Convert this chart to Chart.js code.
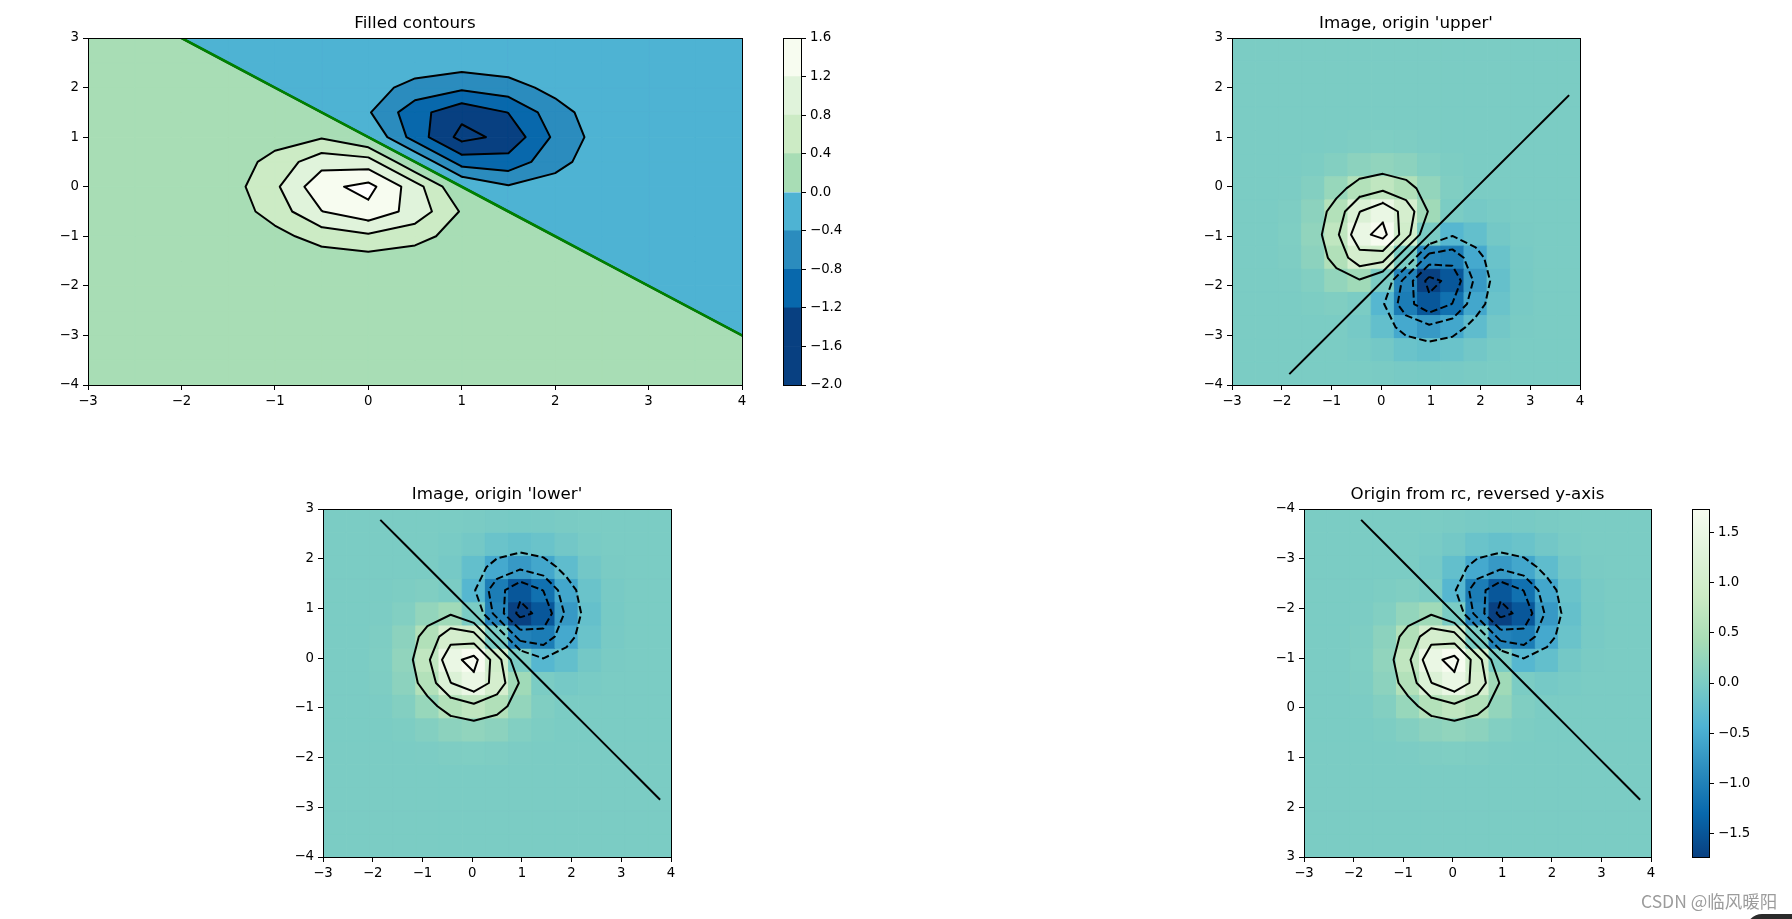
<!DOCTYPE html>
<html><head><meta charset="utf-8">
<script src="https://cdn.jsdelivr.net/npm/chart.js@4.4.1/dist/chart.umd.min.js"></script>
<style>
html,body{margin:0;padding:0;background:#fff;width:1792px;height:919px;overflow:hidden;position:relative;}
canvas{position:absolute;}
#wm{position:absolute;left:1641px;top:888px;font-family:"Noto Sans CJK SC";font-size:17.5px;color:#9c9c9c;white-space:nowrap;z-index:5;}
#corner{position:absolute;left:1746px;top:914px;width:80px;height:30px;border-radius:16px 0 0 0;background:#2b2b2b;z-index:5;}
</style></head><body>
<canvas id="p1"></canvas><canvas id="cb1"></canvas>
<canvas id="p2"></canvas><canvas id="p3"></canvas>
<canvas id="p4"></canvas><canvas id="cb4"></canvas>
<div id="wm">CSDN @临风暖阳</div><div id="corner"></div>
<script>
// ---------------- data ----------------
const X_GRID = [-3,-2.5,-2,-1.5,-1,-0.5,0,0.5,1,1.5,2,2.5,3,3.5,4];
const Y_GRID = [-4,-3.5,-3,-2.5,-2,-1.5,-1,-0.5,0,0.5,1,1.5,2,2.5,3];
const P = 0.001, N = -0.001; // tiny positive / negative values (far field)
const Z = [
 [P,P,P,P,P,P,P,P,P,P,P,P,P,P,P],                                  // y=-4
 [P,P,P,P,P,P,P,P,P,P,P,P,P,P,P],                                  // y=-3.5
 [P,P,P,P,P,P,P,P,P,P,P,P,P,P,0],                                  // y=-3
 [P,P,P,P,P,P,P,P,P,P,P,P,P,0,N],                                  // y=-2.5
 [P,P,P,P,0.01,0.03,0.04,0.03,0.01,P,P,P,0,N,N],                   // y=-2
 [P,P,P,0.02,0.08,0.16,0.21,0.16,0.07,0.02,P,0,N,N,N],             // y=-1.5
 [P,P,0.01,0.08,0.27,0.57,0.72,0.54,0.23,0.05,0,N,N,N,N],          // y=-1
 [P,P,0.03,0.16,0.57,1.19,1.48,1.05,0.36,0,-0.05,-0.02,N,N,N],     // y=-0.5
 [P,P,0.04,0.21,0.72,1.48,1.73,0.98,0,-0.36,-0.23,-0.07,-0.01,N,N],// y=0
 [P,P,0.03,0.16,0.54,1.05,0.98,0,-0.98,-1.05,-0.54,-0.16,-0.03,N,N],// y=0.5
 [P,P,0.01,0.07,0.23,0.36,0,-0.98,-1.73,-1.48,-0.72,-0.21,-0.04,N,N],// y=1
 [P,P,P,0.02,0.05,0,-0.36,-1.05,-1.48,-1.19,-0.57,-0.16,-0.03,N,N],// y=1.5
 [P,P,P,P,0,-0.05,-0.23,-0.54,-0.72,-0.57,-0.27,-0.08,-0.01,N,N],  // y=2
 [P,P,P,0,N,-0.02,-0.07,-0.16,-0.21,-0.16,-0.08,-0.02,N,N,N],      // y=2.5
 [P,P,0,N,N,N,-0.01,-0.03,-0.04,-0.03,-0.01,N,N,N,N]               // y=3
];
const EXTENT = [-3, 4, -4, 3];
const LEVELS = [-2,-1.6,-1.2,-0.8,-0.4,0,0.4,0.8,1.2,1.6];
const BAND_COLORS = ['#084081','#084081','#0868ac','#2b8cbe','#4eb3d3','#a8ddb5','#ccebc5','#e0f3db','#f7fcf0'];
const GNBU_R = ['#084081','#0868ac','#2b8cbe','#4eb3d3','#7bccc4','#a8ddb5','#ccebc5','#e0f3db','#f7fcf0'];
const VMAX = 1.73;
const X_TICKS = [-3,-2,-1,0,1,2,3,4];
const Y_TICKS = [-4,-3,-2,-1,0,1,2,3];
const CB1_TICKS = [-2,-1.6,-1.2,-0.8,-0.4,0,0.4,0.8,1.2,1.6];
const CB4_TICKS = [-1.5,-1,-0.5,0,0.5,1,1.5];
const TITLES = ['Filled contours',"Image, origin 'upper'","Image, origin 'lower'",'Origin from rc, reversed y-axis'];

// ---------------- helpers ----------------
const FONT = 'DejaVu Sans';
Chart.defaults.font.family = FONT;
Chart.defaults.color = '#000';
const DASH = [7.5, 3.3];
const TITLE_SIZE = 16.7;
const NX = X_GRID.length, NY = Y_GRID.length;
const DX = (EXTENT[1]-EXTENT[0])/NX, DY = (EXTENT[3]-EXTENT[2])/NY;

function hex(c){return [1,3,5].map(k=>parseInt(c.substr(k,2),16));}
function cmap(v){
  let t = (v + VMAX)/(2*VMAX); t = Math.max(0, Math.min(1, t));
  const f = t*(GNBU_R.length-1); const i = Math.min(Math.floor(f), GNBU_R.length-2); const u = f-i;
  const a = hex(GNBU_R[i]), b = hex(GNBU_R[i+1]);
  return 'rgb('+[0,1,2].map(k=>Math.round(a[k]+(b[k]-a[k])*u)).join(',')+')';
}
const minus = s => String(s).replace('-', '\u2212');
const fmtInt = v => minus(v);
const fmt1 = v => minus(Number(v).toFixed(1));

function isoSegments(xs, ys, level){
  const segs = [];
  const ip = (a,b) => { const t=(level-a[2])/(b[2]-a[2]); return [a[0]+t*(b[0]-a[0]), a[1]+t*(b[1]-a[1])]; };
  for (let j=0;j<NY-1;j++) for (let i=0;i<NX-1;i++){
    const c = [[xs[i],ys[j],Z[j][i]],[xs[i+1],ys[j],Z[j][i+1]],[xs[i+1],ys[j+1],Z[j+1][i+1]],[xs[i],ys[j+1],Z[j+1][i]]];
    const pts = [];
    for (let k=0;k<4;k++){ const a=c[k], b=c[(k+1)%4]; if ((a[2]>level)!==(b[2]>level)) pts.push(ip(a,b)); }
    if (pts.length===2) segs.push(pts);
    else if (pts.length===4){
      const ctr=(c[0][2]+c[1][2]+c[2][2]+c[3][2])/4;
      if ((ctr>level)===(c[0][2]>level)) { segs.push([pts[0],pts[1]]); segs.push([pts[2],pts[3]]); }
      else { segs.push([pts[3],pts[0]]); segs.push([pts[1],pts[2]]); }
    }
  }
  return segs.filter(s => Math.hypot(s[0][0]-s[1][0], s[0][1]-s[1][1]) > 1e-9);
}
function chain(segs){
  const key = p => Math.round(p[0]*1e6)+','+Math.round(p[1]*1e6);
  const adj = new Map();
  segs.forEach((s,i)=>{ for (const e of [0,1]) { const k=key(s[e]); if(!adj.has(k)) adj.set(k,[]); adj.get(k).push([i,e]); } });
  const used = new Array(segs.length).fill(false);
  const lines = [];
  const walk = (si, e) => {
    const pts = [segs[si][e]];
    while (true){
      used[si] = true;
      const other = segs[si][1-e]; pts.push(other);
      const cand = (adj.get(key(other))||[]).find(([j])=>!used[j]);
      if (!cand) break; si = cand[0]; e = cand[1];
    }
    return pts;
  };
  for (const [k,list] of adj) if (list.length===1 && !used[list[0][0]]) lines.push(walk(list[0][0], list[0][1]));
  for (let i=0;i<segs.length;i++) if (!used[i]) lines.push(walk(i,0));
  return lines;
}
function contourDatasets(xs, ys, levels, dashedNeg, color, width, order){
  const out = [];
  for (const L of levels){
    for (const pl of chain(isoSegments(xs, ys, L))){
      const dashed = dashedNeg && L < 0;
      out.push({data: pl.map(p=>({x:p[0], y:p[1]})), showLine:true, pointRadius:0, borderColor:color, borderWidth:width,
        borderDash: dashed ? DASH : [], borderJoinStyle:'round', borderCapStyle: dashed ? 'butt' : 'square', fill:false, order});
    }
  }
  return out;
}
function clipPoly(poly, level, keepAbove){
  const out=[];
  for (let k=0;k<poly.length;k++){
    const a=poly[k], b=poly[(k+1)%poly.length];
    const ina = keepAbove ? a[2]>=level : a[2]<=level;
    const inb = keepAbove ? b[2]>=level : b[2]<=level;
    if (ina) out.push(a);
    if (ina!==inb){ const t=(level-a[2])/(b[2]-a[2]); out.push([a[0]+t*(b[0]-a[0]), a[1]+t*(b[1]-a[1]), level]); }
  }
  return out;
}
function polyArea(p){ let s=0; for(let k=0;k<p.length;k++){const a=p[k],b=p[(k+1)%p.length]; s+=a[0]*b[1]-b[0]*a[1];} return Math.abs(s/2); }
function bandDatasets(){
  const ds=[];
  for (let k=0;k<BAND_COLORS.length;k++){
    const lo=LEVELS[k], hi=LEVELS[k+1], data=[];
    for (let j=0;j<NY-1;j++) for (let i=0;i<NX-1;i++){
      const cell=[[X_GRID[i],Y_GRID[j],Z[j][i]],[X_GRID[i+1],Y_GRID[j],Z[j][i+1]],[X_GRID[i+1],Y_GRID[j+1],Z[j+1][i+1]],[X_GRID[i],Y_GRID[j+1],Z[j+1][i]]];
      const p = clipPoly(clipPoly(cell, lo, true), hi, false);
      if (p.length>=3 && polyArea(p)>1e-9){
        p.forEach(q=>data.push({x:q[0],y:q[1]})); data.push({x:p[0][0],y:p[0][1]}); data.push({x:null,y:null});
      }
    }
    ds.push({data, showLine:true, spanGaps:false, pointRadius:0, borderColor:BAND_COLORS[k], backgroundColor:BAND_COLORS[k], borderWidth:1, fill:'shape', order:5});
  }
  return ds;
}
function heatDataset(rowCenter){
  const data=[];
  for (let j=0;j<NY;j++) for (let i=0;i<NX;i++) data.push({x:EXTENT[0]+(i+0.5)*DX, y:rowCenter(j), v:Z[j][i]});
  const col = c => c.raw ? cmap(c.raw.v) : 'rgba(0,0,0,0)';
  return {data, showLine:false, pointStyle:'rect', order:5,
    pointBackgroundColor:col, pointBorderColor:col, pointBorderWidth:1,
    pointRadius: c => { const s=c.chart.scales; if(!s.x||!s.y) return 0;
      const w=Math.abs(s.x.getPixelForValue(DX)-s.x.getPixelForValue(0)), h=Math.abs(s.y.getPixelForValue(DY)-s.y.getPixelForValue(0));
      return Math.max(w,h)/Math.SQRT2; }};
}
const framePlugin = {id:'frame', afterDatasetsDraw(chart){ const {ctx, chartArea:a}=chart; ctx.save(); ctx.strokeStyle='#000'; ctx.lineWidth=1;
  ctx.strokeRect(a.left+0.5, a.top+0.5, a.right-a.left, a.bottom-a.top); ctx.restore(); }};

function axis(ticks, fmt, extra){
  return Object.assign({
    type:'linear', afterBuildTicks: s => { s.ticks = ticks.map(v=>({value:v})); },
    ticks:{color:'#000', font:{family:FONT, size:13.3}, padding:4, autoSkip:false, maxRotation:0, minRotation:0, callback:fmt},
    grid:{display:true, drawOnChartArea:false, drawTicks:true, tickLength:5, tickColor:'#000', tickWidth:1, color:'#000'},
    border:{display:false}
  }, extra);
}
function setupCanvas(id, r){ const c=document.getElementById(id); c.width=r.w; c.height=r.h; c.style.left=r.x+'px'; c.style.top=r.y+'px'; c.style.width=r.w+'px'; c.style.height=r.h+'px'; return c; }

function panel(id, cv, area, title, datasets, yReverse){
  const c = setupCanvas(id, cv);
  const lh = TITLE_SIZE*1.2;
  const titleMid = area.t - 14.3 - cv.y;
  const pt = titleMid - lh/2, pb = (area.t - cv.y) - pt - lh;
  return new Chart(c, {type:'scatter', data:{datasets},
    options:{responsive:false, devicePixelRatio:1, animation:false, events:[],
      layout:{padding:{left:0, top:0, bottom:0, right:cv.x+cv.w-area.r}},
      plugins:{legend:{display:false}, tooltip:{enabled:false},
        title:{display:true, text:title, fullSize:false, color:'#000', font:{family:FONT, size:TITLE_SIZE, weight:'normal', lineHeight:1.2}, padding:{top:pt, bottom:pb}}},
      scales:{
        x: axis(X_TICKS, fmtInt, {min:EXTENT[0], max:EXTENT[1], afterFit: s=>{ s.height = cv.y+cv.h-area.b; }}),
        y: axis(Y_TICKS, fmtInt, {min:EXTENT[2], max:EXTENT[3], reverse:!!yReverse, afterFit: s=>{ s.width = area.l-cv.x; }})
      }},
    plugins:[framePlugin]});
}
function colorbar(id, cv, area, datasets, vmin, vmax, ticks){
  const c = setupCanvas(id, cv);
  return new Chart(c, {type:'bar', data:{labels:[''], datasets},
    options:{responsive:false, devicePixelRatio:1, animation:false, events:[],
      layout:{padding:{left:area.l-cv.x, top:area.t-cv.y, bottom:cv.y+cv.h-area.b, right:0}},
      plugins:{legend:{display:false}, tooltip:{enabled:false}},
      scales:{
        x:{display:false},
        y: axis(ticks, fmt1, {position:'right', min:vmin, max:vmax, afterFit: s=>{ s.width = cv.x+cv.w-area.r; }})
      }},
    plugins:[framePlugin]});
}

// ---------------- panels ----------------
const XC = X_GRID.map((_,i)=>EXTENT[0]+(i+0.5)*DX);
const YC_UPPER = Y_GRID.map((_,j)=>EXTENT[3]-(j+0.5)*DY);
const YC_LOWER = Y_GRID.map((_,j)=>EXTENT[2]+(j+0.5)*DY);

panel('p1', {x:0,y:0,w:770,h:420}, {l:88,t:38,r:742,b:385}, TITLES[0],
  [].concat(contourDatasets(X_GRID, Y_GRID, [0], false, '#008000', 2.7, 1),
            contourDatasets(X_GRID, Y_GRID, LEVELS, false, '#000', 2, 2),
            bandDatasets()));
colorbar('cb1', {x:770,y:0,w:80,h:420}, {l:783,t:38,r:801,b:385},
  BAND_COLORS.map((col,k)=>({data:[[LEVELS[k],LEVELS[k+1]]], backgroundColor:col, borderWidth:0, grouped:false, barPercentage:1, categoryPercentage:1})),
  LEVELS[0], LEVELS[LEVELS.length-1], CB1_TICKS);

panel('p2', {x:1180,y:0,w:430,h:420}, {l:1232,t:38,r:1580,b:385}, TITLES[1],
  [].concat(contourDatasets(XC, YC_UPPER, LEVELS, true, '#000', 2, 1), [heatDataset(j=>YC_UPPER[j])]));
panel('p3', {x:270,y:470,w:430,h:449}, {l:323,t:509,r:671,b:857}, TITLES[2],
  [].concat(contourDatasets(XC, YC_LOWER, LEVELS, true, '#000', 2, 1), [heatDataset(j=>YC_LOWER[j])]));
panel('p4', {x:1250,y:470,w:425,h:449}, {l:1304,t:509,r:1651,b:857}, TITLES[3],
  [].concat(contourDatasets(XC, YC_UPPER, LEVELS, true, '#000', 2, 1), [heatDataset(j=>YC_UPPER[j])]), true);
colorbar('cb4', {x:1680,y:470,w:100,h:449}, {l:1692,t:509,r:1709,b:857},
  [{data:[[-VMAX,VMAX]], borderWidth:0, grouped:false, barPercentage:1, categoryPercentage:1,
    backgroundColor: c => { const ch=c.chart; if(!ch.chartArea||!ch.scales.y) return GNBU_R[4];
      const y=ch.scales.y; const g=ch.ctx.createLinearGradient(0, y.getPixelForValue(-VMAX), 0, y.getPixelForValue(VMAX));
      GNBU_R.forEach((col,i)=>g.addColorStop(i/(GNBU_R.length-1), col)); return g; }}],
  -VMAX, VMAX, CB4_TICKS);
</script>
</body></html>
